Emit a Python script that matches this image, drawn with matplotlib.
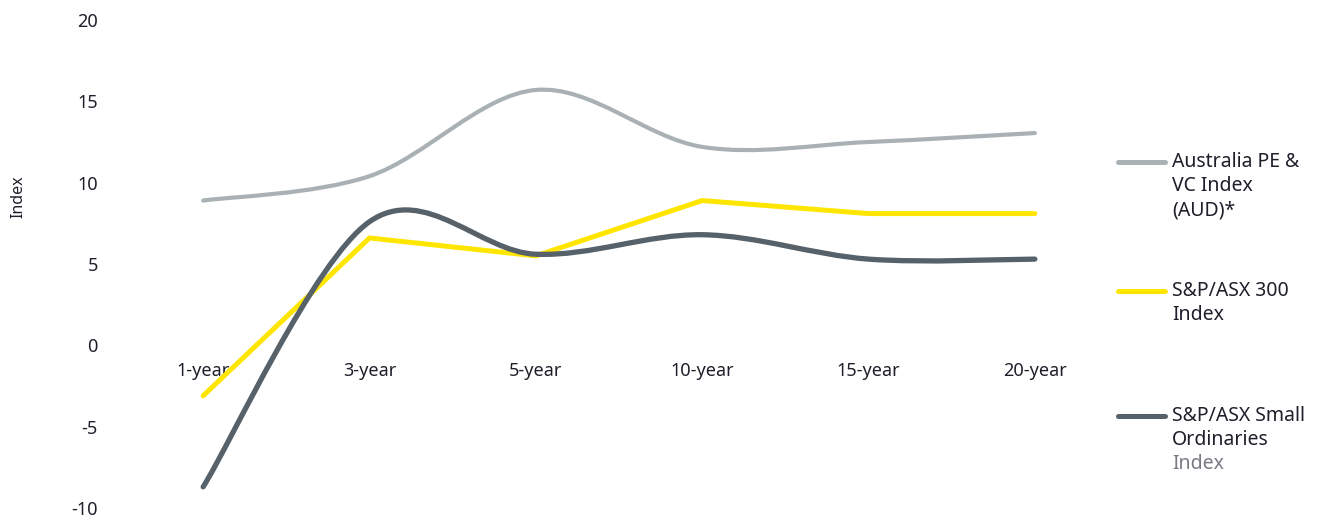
import matplotlib
matplotlib.use("Agg")
import matplotlib.pyplot as plt
from matplotlib.path import Path
from matplotlib.patches import PathPatch
from matplotlib.lines import Line2D
import numpy as np

categories = ["1-year", "3-year", "5-year", "10-year", "15-year", "20-year"]
pe_vc = [8.9, 10.4, 15.7, 12.2, 12.5, 13.05]
asx300 = [-3.1, 6.6, 5.5, 8.9, 8.1, 8.1]
small_ords = [-8.7, 7.6, 5.6, 6.8, 5.3, 5.3]
y_ticks = [-10, -5, 0, 5, 10, 15, 20]

TXT = "#1f1f2b"
C_GREY = "#A9B1B4"
C_YEL = "#FFE600"
C_DARK = "#56616A"

plt.rcParams['font.family'] = ['Noto Sans', 'DejaVu Sans']

W, H = 1325, 518
fig = plt.figure(figsize=(13.25, 5.18), dpi=100)
ax = fig.add_axes([120/W, 10/H, (1118-120)/W, 488/H])


def smooth_path(xs, ys):
    # Catmull-Rom style bezier through the data points (smoothed line)
    xs = np.asarray(xs, float); ys = np.asarray(ys, float)
    n = len(xs)
    verts = [(xs[0], ys[0])]
    codes = [Path.MOVETO]
    for i in range(n - 1):
        p0 = (xs[i-1], ys[i-1]) if i > 0 else (xs[i], ys[i])
        p1 = (xs[i], ys[i]); p2 = (xs[i+1], ys[i+1])
        p3 = (xs[i+2], ys[i+2]) if i + 2 < n else p2
        c1 = (p1[0] + (p2[0]-p0[0])/6, p1[1] + (p2[1]-p0[1])/6)
        c2 = (p2[0] - (p3[0]-p1[0])/6, p2[1] - (p3[1]-p1[1])/6)
        verts += [c1, c2, p2]
        codes += [Path.CURVE4]*3
    return Path(verts, codes)

x = np.arange(len(categories))
ax.spines['bottom'].set_position(('data', 0))
for s in ax.spines.values():
    s.set_visible(False)

ax.add_patch(PathPatch(smooth_path(x, pe_vc), fill=False, edgecolor=C_GREY,
                       lw=3.0, capstyle='round', joinstyle='round', zorder=2))
ax.plot(x, asx300, color=C_YEL, lw=3.6, solid_capstyle='round',
        solid_joinstyle='miter', zorder=3)
ax.add_patch(PathPatch(smooth_path(x, small_ords), fill=False, edgecolor=C_DARK,
                       lw=3.8, capstyle='round', joinstyle='round', zorder=4))

ax.set_xlim(-0.5, len(categories) - 0.5)
ax.set_ylim(-10, 20)
ax.set_yticks(y_ticks)
ax.set_yticklabels([str(v) for v in y_ticks])
ax.set_xticks(x)
ax.set_xticklabels(categories)
ax.tick_params(axis='both', length=0, labelsize=13, labelcolor=TXT)
ax.tick_params(axis='x', pad=12)
ax.tick_params(axis='y', pad=16)

fig.text(18/W, 1 - 197/H, "Index", rotation=90, ha='center', va='center',
         fontsize=11.5, color=TXT)

# Legend
legend_items = [
    (C_GREY, 162, ["Australia PE &", "VC Index", "(AUD)*"], [TXT, TXT, TXT]),
    (C_YEL, 291, ["S&P/ASX 300", "Index"], [TXT, TXT]),
    (C_DARK, 416, ["S&P/ASX Small", "Ordinaries", "Index"], [TXT, TXT, "#7a7a84"]),
]
for col, ytop, lines, cols in legend_items:
    fig.add_artist(Line2D([1118/W, 1165/W], [1 - ytop/H, 1 - ytop/H], color=col,
                          lw=3.6, solid_capstyle='round', transform=fig.transFigure))
    for k, (t, c) in enumerate(zip(lines, cols)):
        fig.text(1172/W, 1 - (ytop + 24*k)/H, t, ha='left', va='center',
                 fontsize=14, color=c)

fig.savefig("out.png", dpi=100)
